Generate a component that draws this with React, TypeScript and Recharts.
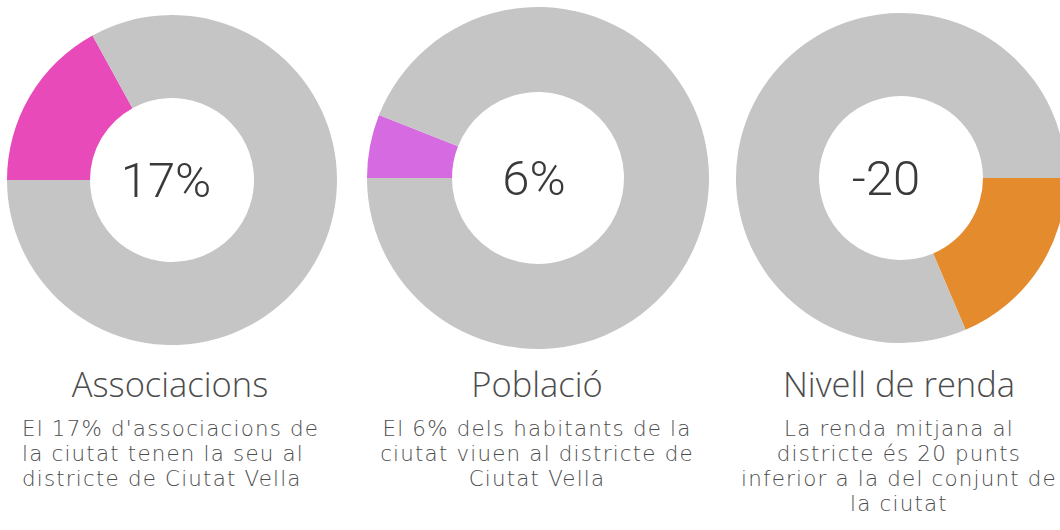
import { PieChart, Pie, Cell, Label } from "recharts";

// indicator names, centre labels and slice shares (percent of the ring)
const titles = ["Associacions", "Població", "Nivell de renda"];
const centerLabels = ["17%", "6%", "-20"];
const highlightShares = [17, 6, 18.6];
const highlightColors = ["#E84BB9", "#D66AE0", "#E48B2D"];
const restColor = "#C5C5C5";

const descriptions = [
  ["El 17% d'associacions de", "la ciutat tenen la seu al", "districte de Ciutat Vella"],
  ["El 6% dels habitants de la", "ciutat viuen al districte de", "Ciutat Vella"],
  ["La renda mitjana al", "districte és 20 punts", "inferior a la del conjunt de", "la ciutat"],
];

// ring geometry per donut (labelDx nudges the centre number like the original)
const rings = [
  { cx: 172, cy: 180, outer: 165, inner: 82, start: 180, labelDx: -6 },
  { cx: 538, cy: 178, outer: 171, inner: 86, start: 180, labelDx: -4 },
  { cx: 901, cy: 178, outer: 165, inner: 82, start: 0, labelDx: -15 },
];

const textLayout = [
  { x: 170, align: "left" as const, left: 22 },
  { x: 537, align: "center" as const, left: 0 },
  { x: 899, align: "center" as const, left: 0 },
];

const W = 1060;
const H = 530;
const BOX = 360;
const COL = 380;

export default function App() {
  return (
    <div style={{ position: "absolute", left: 0, top: 0, width: W, height: H, background: "#fff", overflow: "hidden" }}>
      {rings.map((r, i) => {
        const data = [
          { name: titles[i], value: highlightShares[i] },
          { name: "resta", value: 100 - highlightShares[i] },
        ];
        return (
          <div key={titles[i]} style={{ position: "absolute", left: r.cx - BOX / 2, top: r.cy - BOX / 2 }}>
            <PieChart width={BOX} height={BOX} margin={{ top: 0, right: 0, bottom: 0, left: 0 }}>
              <Pie
                data={data}
                dataKey="value"
                cx="50%"
                cy="50%"
                outerRadius={r.outer}
                innerRadius={r.inner}
                startAngle={r.start}
                endAngle={r.start - 360}
                stroke="none"
                isAnimationActive={false}
              >
                <Cell fill={highlightColors[i]} />
                <Cell fill={restColor} />
                <Label
                  position="center"
                  value={centerLabels[i]}
                  dx={r.labelDx}
                  fill="#3a3a3a"
                  fontSize={49}
                  fontFamily="Roboto, sans-serif"
                  fontWeight={300}
                />
              </Pie>
            </PieChart>
          </div>
        );
      })}

      {titles.map((t, i) => {
        const lay = textLayout[i];
        return (
          <div
            key={t}
            style={{
              position: "absolute",
              top: 365.6,
              left: lay.x - COL / 2,
              width: COL,
              whiteSpace: "nowrap",
              color: "#4c4c4c",
            }}
          >
            <div
              style={{
                textAlign: "center",
                fontSize: 34.5,
                lineHeight: "36px",
                fontFamily: "'Open Sans', sans-serif",
                fontWeight: 300,
              }}
            >
              {t}
            </div>
            <div
              style={{
                marginTop: 14,
                fontFamily: "'DejaVu Sans', sans-serif",
                fontWeight: 200,
                fontSize: 21.4,
                letterSpacing: 1.2,
                lineHeight: "25px",
                textAlign: lay.align,
                paddingLeft: lay.align === "left" ? lay.left - (lay.x - COL / 2) : 0,
              }}
            >
              {descriptions[i].map((line) => (
                <div key={line}>{line}</div>
              ))}
            </div>
          </div>
        );
      })}
    </div>
  );
}
